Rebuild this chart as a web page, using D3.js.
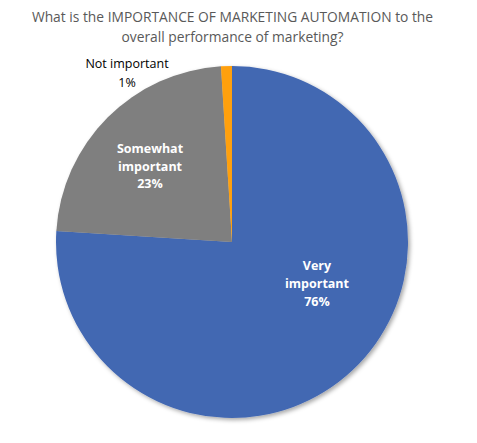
<!DOCTYPE html>
<html>
<head>
<meta charset="utf-8">
<script src="https://cdn.jsdelivr.net/npm/d3@7"></script>
<style>
  body { margin: 0; background: #fff; }
  svg { display: block; }
</style>
</head>
<body>
<div id="chart"></div>
<script>
// Chart data
var categories = ["Very important", "Somewhat important", "Not important"];
var values = [76, 23, 1];
var labelLines = [["Very", "important", "76%"], ["Somewhat", "important", "23%"], ["Not important", "1%"]];
var colors = ["#4267b2", "#7f7f7f", "#ffa00a"];
var titleLines = ["What is the IMPORTANCE OF MARKETING AUTOMATION to the", "overall performance of marketing?"];

var svgWidth = 477;
var svgHeight = 443;
var radius = 176;
var cx = 232, cy = 242;

var svg = d3.select("#chart").append("svg")
            .attr("width", svgWidth)
            .attr("height", svgHeight);

// Soft shadow like the office chart
var defs = svg.append("defs");
var filter = defs.append("filter").attr("id", "shadow")
                 .attr("x", "-10%").attr("y", "-10%").attr("width", "120%").attr("height", "120%");
filter.append("feDropShadow").attr("dx", 2).attr("dy", 2).attr("stdDeviation", 2)
      .attr("flood-color", "#000").attr("flood-opacity", 0.35);

// Title
svg.append("g").selectAll("text")
   .data(titleLines)
   .enter()
   .append("text")
   .attr("x", 232.5)
   .attr("y", (d, i) => 22 + i * 20)
   .attr("text-anchor", "middle")
   .attr("font-family", "'Open Sans', 'Liberation Sans', sans-serif")
   .attr("font-size", "13.8px")
   .attr("fill", "#595959")
   .text(d => d);

var pie = d3.pie().sort(null).value(d => d);
var arc = d3.arc().innerRadius(0).outerRadius(radius);
var arcs = pie(values);

var pieGroup = svg.append("g")
                  .attr("transform", `translate(${cx}, ${cy})`);

pieGroup.append("g")
        .attr("filter", "url(#shadow)")
        .selectAll("path")
        .data(arcs)
        .enter()
        .append("path")
        .attr("d", arc)
        .attr("fill", (d, i) => colors[i]);

// Label positions, relative to the pie centre, from the picture
var labelPos = [[85, 28], [-82, -89], [-105, -174]];
var labelStep = [18, 17.5, 19];
var labelColor = ["#fff", "#fff", "#000"];

arcs.forEach((d, i) => {
  var t = pieGroup.append("text")
                  .attr("text-anchor", "middle")
                  .attr("font-family", "'Open Sans', 'Liberation Sans', sans-serif")
                  .attr("font-size", "12.5px")
                  .attr("font-weight", i === 2 ? "normal" : "bold")
                  .attr("fill", labelColor[i]);
  labelLines[i].forEach((line, j) => {
    t.append("tspan")
     .attr("x", labelPos[i][0])
     .attr("y", labelPos[i][1] + j * labelStep[i])
     .text(line);
  });
});
</script>
</body>
</html>
